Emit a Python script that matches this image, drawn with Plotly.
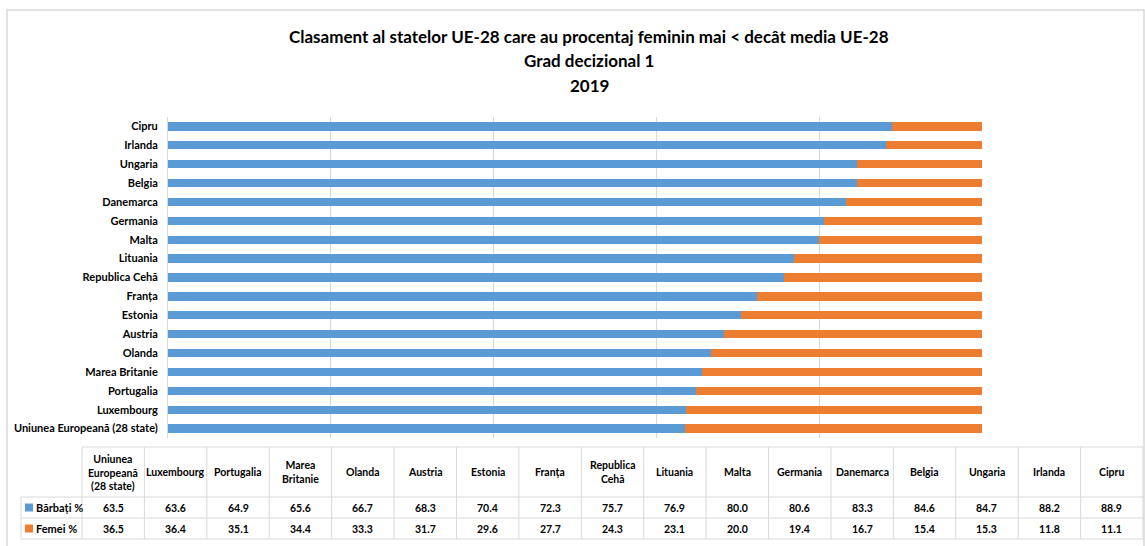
import plotly.graph_objects as go

# ----------------------------------------------------
# Data
# ----------------------------------------------------

tari = [
    "Uniunea Europeană (28 state)", "Luxembourg", "Portugalia", "Marea Britanie",
    "Olanda", "Austria", "Estonia", "Franța", "Republica Cehă", "Lituania",
    "Malta", "Germania", "Danemarca", "Belgia", "Ungaria", "Irlanda", "Cipru"
]

tari_tabel = [
    "Uniunea<br>Europeană<br>(28 state)", "Luxembourg", "Portugalia", "Marea<br>Britanie",
    "Olanda", "Austria", "Estonia", "Franța", "Republica<br>Cehă", "Lituania",
    "Malta", "Germania", "Danemarca", "Belgia", "Ungaria", "Irlanda", "Cipru"
]

barbati = [63.5, 63.6, 64.9, 65.6, 66.7, 68.3, 70.4, 72.3, 75.7, 76.9,
           80.0, 80.6, 83.3, 84.6, 84.7, 88.2, 88.9]

femei = [36.5, 36.4, 35.1, 34.4, 33.3, 31.7, 29.6, 27.7, 24.3, 23.1,
         20.0, 19.4, 16.7, 15.4, 15.3, 11.8, 11.1]

serii = ["Bărbați %", "Femei %"]
culori = ["#5B9BD5", "#ED7D31"]

titlu = [
    "Clasament al statelor UE-28 care au procentaj feminin mai < decât media UE-28",
    "Grad decizional 1",
    "2019"
]

W, H = 1145, 546
FONT = "Lato, Liberation Sans Narrow, sans-serif"


def px(x):
    return x / W


def py(y):
    return 1 - y / H


# ----------------------------------------------------
# Bars
# ----------------------------------------------------

fig = go.Figure()

for nume, valori, culoare in zip(serii, [barbati, femei], culori):
    fig.add_trace(
        go.Bar(
            y=tari,
            x=valori,
            name=nume,
            orientation="h",
            marker=dict(color=culoare, line=dict(width=0)),
            showlegend=False
        )
    )

fig.update_layout(
    width=W,
    height=H,
    barmode="stack",
    bargap=0.56,
    plot_bgcolor="white",
    paper_bgcolor="white",
    margin=dict(l=0, r=0, t=0, b=0, autoexpand=False),
    font=dict(family=FONT, color="#000000"),
    xaxis=dict(
        domain=[px(168), px(982)],
        range=[0, 100],
        dtick=20,
        showgrid=True,
        gridcolor="#d9d9d9",
        gridwidth=1,
        zeroline=False,
        showticklabels=False,
        automargin=False,
        fixedrange=True
    ),
    yaxis=dict(
        domain=[py(438), py(117)],
        categoryorder="array",
        categoryarray=tari,
        showgrid=False,
        showline=True,
        linecolor="#d9d9d9",
        ticks="",
        ticklabelstandoff=7,
        automargin=False,
        tickfont=dict(family=FONT, size=11, color="#000000", weight="bold")
    )
)

# ----------------------------------------------------
# Title
# ----------------------------------------------------

for linie, y in zip(titlu, [37, 60, 85]):
    fig.add_annotation(
        text="<b>" + linie + "</b>",
        x=px(589), y=py(y), xref="paper", yref="paper",
        xanchor="center", yanchor="middle", showarrow=False,
        font=dict(family=FONT, size=17, color="#000000")
    )

# chart border
fig.add_shape(
    type="rect", xref="paper", yref="paper",
    x0=px(7), x1=px(1144), y0=py(560), y1=py(10),
    line=dict(color="#d9d9d9", width=1.5)
)

# ----------------------------------------------------
# Data table
# ----------------------------------------------------

t_left, t_lab, t_right = 21, 82, 1143
col_w = (t_right - t_lab) / len(tari)
r_top, r_h1, r_h2, r_bot = 447, 497, 518, 539
linie_tabel = dict(color="#d9d9d9", width=1)

# horizontal lines
fig.add_shape(type="line", xref="paper", yref="paper",
              x0=px(t_lab), x1=px(t_right), y0=py(r_top), y1=py(r_top), line=linie_tabel)
for y in [r_h1, r_h2, r_bot]:
    fig.add_shape(type="line", xref="paper", yref="paper",
                  x0=px(t_left), x1=px(t_right), y0=py(y), y1=py(y), line=linie_tabel)

# vertical lines
fig.add_shape(type="line", xref="paper", yref="paper",
              x0=px(t_left), x1=px(t_left), y0=py(r_h1), y1=py(r_bot), line=linie_tabel)
for i in range(len(tari) + 1):
    x = t_lab + i * col_w
    fig.add_shape(type="line", xref="paper", yref="paper",
                  x0=px(x), x1=px(x), y0=py(r_top), y1=py(r_bot), line=linie_tabel)

tfont = dict(family=FONT, size=10.5, color="#000000")

# header
for i, nume in enumerate(tari_tabel):
    fig.add_annotation(
        text="<b>" + nume + "</b>",
        x=px(t_lab + (i + 0.5) * col_w), y=py((r_top + r_h1) / 2),
        xref="paper", yref="paper", xanchor="center", yanchor="middle",
        showarrow=False, font=tfont
    )

# rows (legend key + values)
for (y0, y1), nume, culoare, valori in zip(
        [(r_h1, r_h2), (r_h2, r_bot)], serii, culori, [barbati, femei]):
    yc = (y0 + y1) / 2
    fig.add_shape(
        type="rect", xref="paper", yref="paper",
        x0=px(25), x1=px(33), y0=py(yc + 4), y1=py(yc - 4),
        fillcolor=culoare, line=dict(width=0)
    )
    fig.add_annotation(
        text="<b>" + nume + "</b>",
        x=px(34), y=py(yc), xref="paper", yref="paper",
        xanchor="left", yanchor="middle", showarrow=False,
        font=dict(family=FONT, size=11, color="#000000")
    )
    for i, v in enumerate(valori):
        fig.add_annotation(
            text="<b>%.1f</b>" % v,
            x=px(t_lab + (i + 0.5) * col_w), y=py(yc),
            xref="paper", yref="paper", xanchor="center", yanchor="middle",
            showarrow=False, font=tfont
        )

fig.write_html(
    "out.html",
    config={"displayModeBar": False},
    post_script="document.body.style.margin='0';document.body.style.overflow='hidden';"
)
